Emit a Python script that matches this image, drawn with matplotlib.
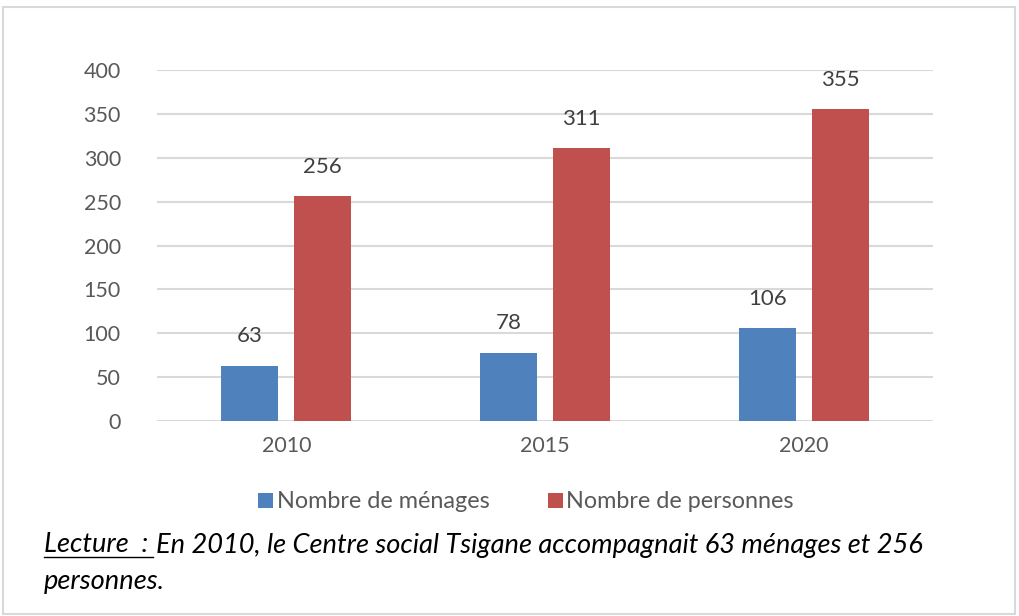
import matplotlib.pyplot as plt
import numpy as np
from matplotlib.patches import Rectangle
from matplotlib.lines import Line2D

years = ['2010', '2015', '2020']
menages = [63, 78, 106]
personnes = [256, 311, 355]
series_names = ['Nombre de ménages', 'Nombre de personnes']
colors = ['#4f81bd', '#c0504d']

plt.rcParams['font.family'] = ['Lato', 'DejaVu Sans']

fig = plt.figure(figsize=(10.2, 6.16), dpi=100)
ax = fig.add_axes([157 / 1020, 1 - 421 / 616, 776 / 1020, 351 / 616])

x = np.arange(len(years))
w = 0.22
off = 0.141
b1 = ax.bar(x - off, menages, w, color=colors[0], label=series_names[0], zorder=3)
b2 = ax.bar(x + off, personnes, w, color=colors[1], label=series_names[1], zorder=3)

for bars in (b1, b2):
    ax.bar_label(bars, padding=14, fontsize=16, color='#404040')

ax.set_xlim(-0.5, 2.5)
ax.set_ylim(0, 400)
ax.set_yticks(range(0, 401, 50))
ax.set_xticks(x)
ax.set_xticklabels(years)
ax.yaxis.grid(True, color='#d9d9d9', linewidth=1.5, zorder=0)
for s in ax.spines.values():
    s.set_visible(False)
ax.tick_params(length=0, labelsize=15.5, labelcolor='#595959')
ax.tick_params(axis='y', pad=26)
ax.tick_params(axis='x', pad=11)

fig.legend(handles=[b1, b2], loc='center', bbox_to_anchor=(526 / 1020, 1 - 502 / 616),
           ncol=2, frameon=False, fontsize=16.8, handlelength=0.65, handleheight=0.65,
           handletextpad=0.15, columnspacing=2.5, labelcolor='#595959')

# frame around the whole picture
fig.patches.append(Rectangle((3 / 1020, 2 / 616), 1012 / 1020, 607 / 616,
                             transform=fig.transFigure, fill=False,
                             edgecolor='#d9d9d9', linewidth=1.5))

lx, ly = 44 / 1020, 1 - 545 / 616
t1 = fig.text(lx, ly, 'Lecture  : ', fontsize=19.6, style='italic', va='center', color='black')
fig.canvas.draw()
bb = t1.get_window_extent()
fig.text((bb.x1 + 1) / 1020, ly, 'En 2010, le Centre social Tsigane accompagnait 63 ménages et 256',
         fontsize=19.6, style='italic', va='center', color='black')
fig.lines.append(Line2D([bb.x0 / 1020, (bb.x1 - 2) / 1020], [(bb.y0 + 1) / 616] * 2,
                        transform=fig.transFigure, color='black', linewidth=1))
fig.text(lx, 1 - 582 / 616, 'personnes.', fontsize=19.6, style='italic', va='center', color='black')

fig.savefig('out.png', dpi=100)
